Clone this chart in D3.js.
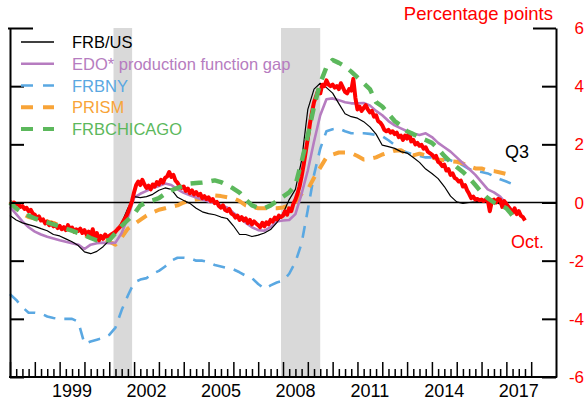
<!DOCTYPE html>
<html>
<head>
<meta charset="utf-8">
<script src="https://cdn.jsdelivr.net/npm/d3@7"></script>
<style>
  html, body { margin: 0; padding: 0; background: #fff; }
  svg { display: block; font-family: "Liberation Sans", Arial, Helvetica, sans-serif; }
</style>
</head>
<body>
<svg id="chart" width="585" height="401"></svg>
<script>
// Output gap estimates, percentage points.
// Model series are quarterly starting 1997:Q1; the staff series is monthly starting Jan 1997.
const startYear = 1997;

const frbus = [
  -0.45, -0.6, -0.7, -0.76,   -0.82, -0.9, -0.97, -1.1,   -1.15, -1.25, -1.35, -1.48,
  -1.7, -1.76, -1.68, -1.52,  -1.3, -1.07, -0.7, -0.2,    0.2, 0.17, 0.2, 0.28,
  0.42, 0.5, 0.45, 0.18,      0.07, -0.03, -0.2, -0.32,   -0.38, -0.42, -0.5, -0.55,
  -0.8, -1.1, -1.1, -1.17,    -1.12, -1.05, -0.93, -0.69, -0.38, 0.1, 0.45, 1.45,
  3.2, 3.9, 4.1, 3.95,        3.76, 3.4, 3.05, 2.95,      2.9, 2.78, 2.6, 2.35,
  1.97, 1.92, 1.86, 1.75,     1.7, 1.55, 1.38, 1.15,      1.0, 0.82, 0.55, 0.22,
  0.02, -0.03, 0.0, 0.02,     0.07, 0.03, 0.0, -0.05,     -0.18, -0.28, -0.3
];

const edo = [
  -0.15, -0.4, -0.65, -0.85,  -1.0, -1.1, -1.18, -1.24,   -1.3, -1.35, -1.4, -1.45,
  -1.6, -1.45, -1.4, -1.38,   -1.4, -1.38, -1.05, -0.52,  0.17, 0.3, 0.4, 0.5,
  0.57, 0.65, 0.6, 0.45,      0.33, 0.25, 0.17, 0.1,      0.03, -0.02, -0.1, -0.17,
  -0.35, -0.52, -0.7, -0.85,  -0.95, -0.97, -0.85, -0.65, -0.62, -0.6, -0.4, 0.3,
  1.1, 2.1, 3.0, 3.55,        3.58, 3.52, 3.45, 3.41,     3.41, 3.42, 3.34, 3.15,
  3.0, 2.8, 2.65, 2.55,       2.45, 2.37, 2.32, 2.38,     2.25, 2.05, 1.9, 1.75,
  1.55, 1.35, 1.15, 0.95,     0.7, 0.45, 0.35, 0.2,       -0.05, -0.28
];

const frbny = [
  -3.15, -3.35, -3.6, -3.79,  -3.79, -3.82, -3.92, -3.97, -4.0, -4.0, -4.0, -4.1,
  -4.86, -4.78, -4.72, -4.66, -4.55, -4.3, -3.7, -3.2,    -2.75, -2.65, -2.6, -2.45,
  -2.35, -2.2, -2.0, -1.9,    -1.9, -1.92, -2.0, -2.0,    -2.05, -2.15, -2.2, -2.25,
  -2.3, -2.4, -2.52, -2.6,    -2.8, -2.97, -2.85, -2.75,  -2.69, -2.45, -2.05, -1.4,
  -0.25, 0.95, 1.85, 2.45,    2.52, 2.55, 2.45, 2.38,     2.38, 2.38, 2.36, 2.32,
  2.28, 2.14, 1.98, 1.8,      1.72, 1.65, 1.6, 1.55,      1.55, 1.5, 1.47, 1.45,
  1.38, 1.28, 1.15, 1.1,      1.05, 1.0, 0.9, 0.8,        0.72, 0.63, 0.69
];

const prism = [
  0.03, -0.2, -0.38, -0.5,    -0.55, -0.6, -0.65, -0.7,   -0.8, -0.88, -0.97, -1.05,
  -1.12, -1.2, -1.28, -1.32,  -1.35, -1.45, -1.2, -0.9,   -0.75, -0.6, -0.45, -0.34,
  -0.25, -0.2, -0.15, -0.1,   0.0, 0.07, 0.1, 0.14,       0.18, 0.24, 0.22, 0.18,
  0.15, 0.05, -0.1, -0.15,    -0.2, -0.2, -0.2, -0.2,     -0.17, -0.1, -0.03, 0.3,
  0.45, 0.85, 1.2, 1.55,      1.65, 1.72, 1.72, 1.7,      1.6, 1.48, 1.5, 1.55,
  1.65, 1.72, 1.78, 1.8,      1.65, 1.62, 1.68, 1.62,     1.55, 1.48, 1.45, 1.42,
  1.4, 1.34, 1.25, 1.17,      1.17, 1.1, 1.08, 1.03,      0.98, 0.9
];

const frbchicago = [
  0.0, -0.2, -0.35, -0.45,    -0.55, -0.62, -0.68, -0.75, -0.82, -0.9, -0.97, -1.05,
  -1.12, -1.22, -1.3, -1.3,   -1.3, -1.05, -0.8, -0.6,    -0.4, -0.1, 0.0, 0.07,
  0.15, 0.3, 0.42, 0.5,       0.58, 0.65, 0.67, 0.69,     0.72, 0.76, 0.7, 0.6,
  0.48, 0.34, 0.1, -0.1,      -0.18, -0.2, -0.1, 0.05,    0.2, 0.35, 0.6, 1.4,
  2.3, 3.3, 4.1, 4.65,        4.9, 4.8, 4.68, 4.5,        4.3, 4.1, 3.9, 3.45,
  3.3, 3.05, 2.8, 2.65,       2.45, 2.35, 2.24, 2.15,     2.05, 1.85, 1.6, 1.4,
  1.22, 1.05, 0.85, 0.6,      0.35, 0.15, 0.0, -0.08,     -0.2, -0.45, -0.62
];

// Staff estimate, monthly, Jan 1997 through Oct 2017
const staffMonthly = [
  0.02, -0.02, 0.0, -0.08, -0.05, -0.15, -0.12, -0.22, -0.18, -0.3, -0.25, -0.38,
  -0.42, -0.55, -0.48, -0.62, -0.58, -0.72, -0.66, -0.78, -0.7, -0.82, -0.76, -0.88,
  -0.8, -0.92, -0.85, -0.95, -0.78, -0.9, -0.86, -1.0, -0.92, -0.98, -0.9, -1.05,
  -0.95, -1.1, -1.0, -1.15, -0.92, -1.2, -1.05, -1.3, -1.15, -1.25, -1.1, -1.2,
  -1.15, -1.1, -1.05, -1.0, -0.92, -0.85, -0.75, -0.62, -0.5, -0.35, -0.15, 0.05,
  0.35, 0.6, 0.72, 0.6, 0.78, 0.62, 0.5, 0.58, 0.45, 0.62, 0.55, 0.7,
  0.62, 0.78, 0.68, 0.85, 0.9, 1.05, 0.88, 0.95, 0.75, 0.68, 0.55, 0.5,
  0.55, 0.4, 0.48, 0.32, 0.42, 0.28, 0.36, 0.25, 0.3, 0.15, 0.22, 0.12,
  0.18, 0.05, 0.12, -0.02, 0.02, -0.12, -0.18, -0.1, -0.25, -0.3, -0.22, -0.38,
  -0.42, -0.52, -0.45, -0.6, -0.5, -0.62, -0.55, -0.7, -0.6, -0.75, -0.65, -0.72,
  -0.78, -0.85, -0.7, -0.82, -0.68, -0.75, -0.6, -0.66, -0.52, -0.58, -0.45, -0.5,
  -0.45, -0.3, -0.42, -0.2, -0.3, -0.05, 0.1, 0.3, 0.55, 0.9, 1.3, 1.75,
  2.2, 2.7, 3.1, 3.45, 3.65, 3.85, 3.75, 4.05, 4.0, 4.2, 4.05, 4.0,
  4.05, 3.95, 4.0, 3.9, 4.1, 3.95, 3.8, 3.75, 3.9, 3.85, 4.25, 3.6,
  3.2, 3.3, 3.15, 3.25, 3.35, 3.2, 3.1, 3.15, 2.95, 3.0, 2.8, 2.75,
  2.65, 2.5, 2.45, 2.5, 2.4, 2.45, 2.35, 2.4, 2.25, 2.3, 2.15, 2.3,
  2.2, 2.4, 2.1, 2.15, 2.0, 2.05, 1.95, 1.98, 1.85, 1.9, 1.75, 1.7,
  1.65, 1.55, 1.6, 1.4, 1.35, 1.25, 1.3, 1.1, 1.15, 0.95, 1.0, 0.85,
  0.8, 0.72, 0.75, 0.55, 0.6, 0.42, 0.3, 0.15, 0.2, 0.1, 0.12, 0.08,
  0.1, 0.05, 0.1, 0.08, -0.3, 0.05, 0.1, 0.0, 0.12, 0.1, -0.15, 0.05,
  -0.05, -0.15, -0.25, -0.35, -0.2, -0.4, -0.3, -0.45, -0.5, -0.62
];

// NBER recessions (fractional years)
const recessions = [[2001.17, 2001.92], [2007.92, 2009.5]];

const yTickValues = [-6, -4, -2, 0, 2, 4, 6];
const yTickLabels = ["-6", "-4", "-2", "0", "2", "4", "6"];
const xLabelYears = [1999, 2002, 2005, 2008, 2011, 2014, 2017];

const legendItems = [
  { name: "FRB/US", data: frbus, color: "#000000", width: 1.2, dash: null },
  { name: "EDO* production function gap", data: edo, color: "#b67cc0", width: 2.6, dash: null },
  { name: "FRBNY", data: frbny, color: "#5aa8e2", width: 2.6, dash: "12,9" },
  { name: "PRISM", data: prism, color: "#f8a438", width: 4, dash: "12,9" },
  { name: "FRBCHICAGO", data: frbchicago, color: "#5cb85c", width: 4.5, dash: "12,9" }
];

const svg = d3.select("#chart");
const x = d3.scaleLinear().domain([1997, 2019]).range([10, 556]);
const y = d3.scaleLinear().domain([-6, 6]).range([377, 28]);

// recession shading
svg.append("g").selectAll("rect").data(recessions).join("rect")
  .attr("x", d => x(d[0])).attr("width", d => x(d[1]) - x(d[0]))
  .attr("y", y(6)).attr("height", y(-6) - y(6))
  .attr("fill", "#d9d9d9");

// zero line
svg.append("line")
  .attr("x1", x(1997)).attr("x2", x(2019))
  .attr("y1", y(0)).attr("y2", y(0))
  .attr("stroke", "#000").attr("stroke-width", 1.3);

const quarterly = arr => arr.map((v, i) => ({ t: startYear + i / 4, v }));
const monthly = arr => arr.map((v, i) => ({ t: startYear + i / 12, v }));
const line = d3.line().x(d => x(d.t)).y(d => y(d.v));

const g = svg.append("g").attr("fill", "none");
const drawSeries = s => g.append("path")
  .datum(quarterly(s.data))
  .attr("d", line)
  .attr("stroke", s.color)
  .attr("stroke-width", s.width)
  .attr("stroke-dasharray", s.dash)
  .attr("stroke-linejoin", "round");

drawSeries(legendItems[2]); // FRBNY
drawSeries(legendItems[3]); // PRISM
drawSeries(legendItems[1]); // EDO
drawSeries(legendItems[0]); // FRB/US

g.append("path")
  .datum(monthly(staffMonthly))
  .attr("d", line)
  .attr("stroke", "#ff0000")
  .attr("stroke-width", 4)
  .attr("stroke-linejoin", "round");

drawSeries(legendItems[4]); // FRBCHICAGO

// axes
const axisStyle = sel => {
  sel.selectAll("path.domain").attr("stroke", "#000").attr("stroke-width", 2);
  sel.selectAll(".tick line").attr("stroke", "#000").attr("stroke-width", 2);
  sel.selectAll(".tick text").remove();
};

const leftAxis = svg.append("g").attr("transform", `translate(${x(1997)},0)`)
  .call(d3.axisRight(y).tickValues(yTickValues).tickSize(14).tickSizeOuter(0))
  .call(axisStyle);
leftAxis.selectAll(".tick line").filter(d => d === 6).attr("x1", -2).attr("x2", 23);

const rightAxis = svg.append("g").attr("transform", `translate(${x(2019)},0)`)
  .call(d3.axisLeft(y).tickValues(yTickValues).tickSize(14).tickSizeOuter(0))
  .call(axisStyle);
rightAxis.selectAll(".tick line").filter(d => d === 6).attr("x2", -23);

const quarterTicks = d3.range(0, (2018 - 1997) * 4 + 1).map(i => 1997 + i / 4);
const bottomAxis = svg.append("g").attr("transform", `translate(0,${y(-6)})`)
  .call(d3.axisTop(x).tickValues(quarterTicks).tickSize(8).tickSizeOuter(0))
  .call(axisStyle);
bottomAxis.selectAll(".tick line").attr("stroke-width", 1.5)
  .filter(d => Math.abs(d - Math.round(d)) < 1e-9).attr("y2", -15);
bottomAxis.select("path.domain").attr("d", `M${x(1997) - 1},0H${x(2019) + 1}`);

// right-hand tick labels
svg.append("g").selectAll("text").data(yTickValues).join("text")
  .attr("x", 584).attr("y", d => y(d) + 6)
  .attr("text-anchor", "end").attr("fill", "#ff0000")
  .attr("font-size", 17)
  .text((d, i) => yTickLabels[i]);

// year labels, centred on each year
svg.append("g").selectAll("text").data(xLabelYears).join("text")
  .attr("x", d => x(d + 0.5)).attr("y", 397)
  .attr("text-anchor", "middle").attr("fill", "#000")
  .attr("font-size", 18)
  .text(d => String(d));

svg.append("text").attr("x", 553).attr("y", 20)
  .attr("text-anchor", "end").attr("fill", "#ff0000").attr("font-size", 18.5)
  .text("Percentage points");

svg.append("text").attr("x", 517).attr("y", 158)
  .attr("text-anchor", "middle").attr("fill", "#000").attr("font-size", 18)
  .text("Q3");

svg.append("text").attr("x", 511).attr("y", 248)
  .attr("fill", "#ff0000").attr("font-size", 18)
  .text("Oct.");

// legend
const legend = svg.append("g");
legendItems.forEach((s, i) => {
  const cy = 42 + i * 21.75;
  legend.append("line")
    .attr("x1", 21).attr("x2", 54).attr("y1", cy).attr("y2", cy)
    .attr("stroke", s.color)
    .attr("stroke-width", s.width === 1.2 ? 1.3 : Math.min(s.width, 4))
    .attr("stroke-dasharray", s.dash ? "12,10" : null);
  legend.append("text")
    .attr("x", 72).attr("y", cy + 6)
    .attr("fill", s.color).attr("font-size", 16.5)
    .text(s.name);
});
</script>
</body>
</html>
